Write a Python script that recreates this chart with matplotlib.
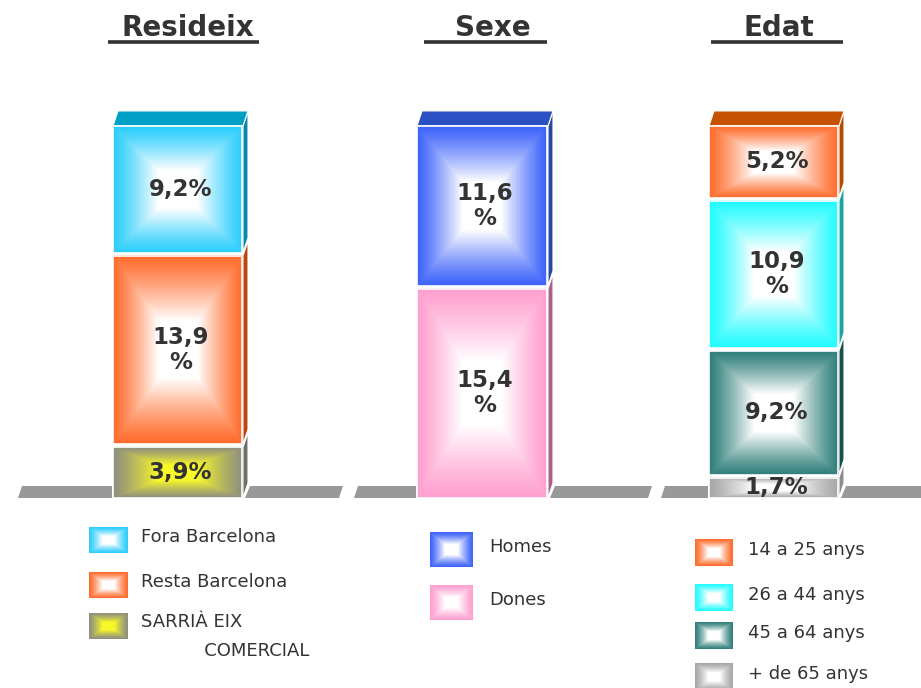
import numpy as np
import matplotlib.pyplot as plt
from matplotlib.patches import Polygon, Rectangle
from matplotlib.colors import to_rgb

# ---- data (stack order: bottom -> top) ----
titles = ['Resideix', 'Sexe', 'Edat']

resid_labels = ['SARRIÀ EIX\n           COMERCIAL', 'Resta Barcelona', 'Fora Barcelona']
resid_values = [3.9, 13.9, 9.2]

sexe_labels = ['Dones', 'Homes']
sexe_values = [15.4, 11.6]

edat_labels = ['+ de 65 anys', '45 a 64 anys', '26 a 44 anys', '14 a 25 anys']
edat_values = [1.7, 9.2, 10.9, 5.2]

# ---- styles: (edge colour, centre colour, side colour) ----
resid_colors = [('#8f8f80', '#f8f82a', '#6e6e6e'),
                ('#ff6b2b', '#ffffff', '#b5460f'),
                ('#29cdfc', '#ffffff', '#0b86a8')]
sexe_colors = [('#ff9fcf', '#ffffff', '#a8628a'),
               ('#3d63fb', '#ffffff', '#2948a6')]
edat_colors = [('#a6a6a6', '#ffffff', '#8c8c8c'),
               ('#2f7f7a', '#ffffff', '#17514d'),
               ('#1ffbff', '#ffffff', '#1aa4a4'),
               ('#ff6b2b', '#ffffff', '#b84a00')]
top_colors = ['#00a0c6', '#2b50c4', '#c55200']

TXT = '#333333'
W, H = 921, 688
BASE = 498          # pixel row of the floor
PXP = 13.78         # pixels per percentage point
DX, DY = 5, 15      # depth of the 3d faces, pixels
GAP = 3


def py(p):
    # pixel row -> data y (percent)
    return (BASE - p) / PXP


def frame_gradient(w, h, edge, center, t0=0.3, power=1.2):
    # rectangular "path" gradient: centre colour in the middle, edge colour at the border
    w, h = max(int(round(w)), 2), max(int(round(h)), 2)
    X, Y = np.meshgrid(np.arange(w) + 0.5, np.arange(h) + 0.5)
    t = np.maximum(np.abs(X - w / 2) / (w / 2), np.abs(Y - h / 2) / (h / 2))
    f = np.clip((1 - t) / (1 - t0), 0, 1) ** power
    e, c = np.array(to_rgb(edge)), np.array(to_rgb(center))
    return e + (c - e) * f[..., None]


fig = plt.figure(figsize=(W / 100, H / 100), dpi=100)
ax = fig.add_axes([0, 0, 1, 1])
ax.set_xlim(0, W)
ax.set_ylim(py(H), py(0))
ax.axis('off')

groups = [
    dict(values=resid_values, labels=resid_labels, colors=resid_colors, x0=113, x1=242,
         floor=(18, 343), title_x=188, uline=(108, 259),
         leg_x=(89, 127), leg_h=26, leg_y=[540, 585, 626], leg_tx=141),
    dict(values=sexe_values, labels=sexe_labels, colors=sexe_colors, x0=417, x1=547,
         floor=(354, 652), title_x=493, uline=(424, 547),
         leg_x=(430, 473), leg_h=35, leg_y=[550, 603], leg_tx=489),
    dict(values=edat_values, labels=edat_labels, colors=edat_colors, x0=709, x1=838,
         floor=(661, 930), title_x=779, uline=(711, 843),
         leg_x=(695, 733), leg_h=27, leg_y=[553, 598, 636, 677], leg_tx=748),
]

dy = DY / PXP
gap = GAP / PXP
for gi, g in enumerate(groups):
    x0, x1 = g['x0'], g['x1']
    vals = g['values']

    # floor pieces
    fy0, fy1 = py(BASE), py(BASE - 12)
    fl, fr = g['floor']
    ax.add_patch(Polygon([(fl, fy0), (fl + 4, fy1), (x0 - 1, fy1), (x0 - 1, fy0)],
                         closed=True, color='#999999', lw=0, zorder=1))
    ax.add_patch(Polygon([(x1 + 3, fy0), (x1 + 8, fy1), (fr, fy1), (fr - 4, fy0)],
                         closed=True, color='#999999', lw=0, zorder=1))

    cum = 0.0
    n = len(vals)
    for i, v in enumerate(vals):
        edge, center, side = g['colors'][i]
        b = cum
        t = cum + v - (gap if i < n - 1 else 0)
        img = frame_gradient(x1 - x0, (t - b) * PXP, edge, center)
        ax.imshow(img, extent=[x0, x1, b, t], aspect='auto', interpolation='bilinear',
                  origin='upper', zorder=3)
        ax.add_patch(Rectangle((x0, b), x1 - x0, t - b, fill=False, ec='white', lw=1.2, zorder=4))
        # side face
        ax.add_patch(Polygon([(x1 + 1, b), (x1 + 1 + DX, b + dy), (x1 + 1 + DX, t + dy), (x1 + 1, t)],
                             closed=True, fc=side, ec='white', lw=0.8, zorder=2))
        # value label
        txt = f'{v:.1f}'.replace('.', ',')
        txt = txt + ('\n%' if v >= 10 else '%')
        ax.text((x0 + x1) / 2 + 3, (b + t) / 2, txt, ha='center', va='center',
                fontsize=16.5, fontweight='bold', color=TXT, linespacing=1.1, zorder=6)
        cum += v
    # top face
    top = cum
    ax.add_patch(Polygon([(x0, top), (x0 + DX, top + dy), (x1 + 1 + DX, top + dy), (x1 + 1, top)],
                         closed=True, fc=top_colors[gi], ec='white', lw=0.8, zorder=2))

    # title with underline
    ax.text(g['title_x'], py(28), titles[gi], ha='center', va='center',
            fontsize=20, fontweight='bold', color=TXT)
    ax.plot(g['uline'], [py(42), py(42)], color=TXT, lw=2.6, solid_capstyle='butt')

    # legend (top segment first)
    lx0, lx1 = g['leg_x']
    lh = g['leg_h']
    for j, i in enumerate(range(n - 1, -1, -1)):
        edge, center, _ = g['colors'][i]
        yc = g['leg_y'][j]
        img = frame_gradient(lx1 - lx0, lh, edge, center, t0=0.3, power=1.3)
        ax.imshow(img, extent=[lx0, lx1, py(yc + lh / 2), py(yc - lh / 2)], aspect='auto',
                  interpolation='bilinear', origin='upper', zorder=3)
        lab = g['labels'][i]
        if '\n' in lab:
            ax.text(g['leg_tx'], py(yc - 13), lab, ha='left', va='top', fontsize=13,
                    color=TXT, linespacing=1.75)
        else:
            ax.text(g['leg_tx'], py(yc - 3), lab, ha='left', va='center', fontsize=13, color=TXT)

fig.savefig('out.png', dpi=100)
